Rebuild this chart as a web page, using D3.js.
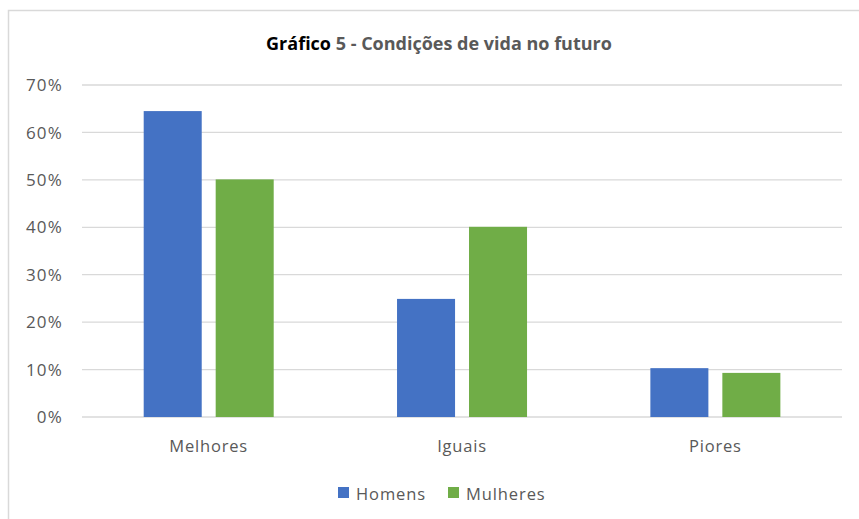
<!DOCTYPE html>
<meta charset="utf-8">
<script src="https://d3js.org/d3.v7.min.js"></script>
<style>
  body { margin: 0; background: #fff; }
  text { font-family: "Open Sans", sans-serif; }
</style>
<div id="main"></div>
<script>

var width = 859
var height = 519

// data
var categories = ["Melhores", "Iguais", "Piores"]
var series = ["Homens", "Mulheres"]
var homens = [0.645, 0.249, 0.103]
var mulheres = [0.501, 0.401, 0.093]
var colors = ["#4472C4", "#70AD47"]
var yTicks = [0, 0.1, 0.2, 0.3, 0.4, 0.5, 0.6, 0.7]

var values = [homens, mulheres]

var svg = d3.select("#main")
  .append("svg")
    .attr("width", width)
    .attr("height", height)

// chart frame (only left and top edges are visible)
svg.append("rect")
    .attr("x", 8.5)
    .attr("y", 10.5)
    .attr("width", 900)
    .attr("height", 600)
    .attr("fill", "#fff")
    .attr("stroke", "#d9d9d9")
    .attr("stroke-width", 1.5)

var plotLeft = 82, plotRight = 842, plotTop = 85, plotBottom = 417

var x0 = d3.scaleBand()
    .domain(categories)
    .range([plotLeft, plotRight])

var x1 = d3.scaleBand()
    .domain(series)
    .range([61.7, 191.7])
    .paddingInner(0.194)

var y = d3.scaleLinear()
    .domain([0, 0.7])
    .range([plotBottom, plotTop])

// gridlines
svg.append("g")
  .selectAll("line")
  .data(yTicks)
  .enter()
  .append("line")
    .attr("x1", plotLeft)
    .attr("x2", plotRight)
    .attr("y1", d => y(d))
    .attr("y2", d => y(d))
    .attr("stroke", "#d9d9d9")
    .attr("stroke-width", 1.3)

// y tick labels
svg.append("g")
  .selectAll("text")
  .data(yTicks)
  .enter()
  .append("text")
    .attr("x", 63)
    .attr("y", d => y(d))
    .attr("dy", "0.36em")
    .attr("text-anchor", "end")
    .attr("fill", "#595959")
    .style("font-size", "17px")
    .style("letter-spacing", "1.2px")
    .text(d => d3.format(".0%")(d))

// bars
var groups = svg.append("g")
  .selectAll("g")
  .data(categories)
  .enter()
  .append("g")
    .attr("transform", d => "translate(" + x0(d) + ",0)")

groups.selectAll("rect")
  .data((c, i) => series.map((s, j) => ({ s: s, v: values[j][i], j: j })))
  .enter()
  .append("rect")
    .attr("x", d => x1(d.s))
    .attr("width", x1.bandwidth())
    .attr("y", d => y(d.v))
    .attr("height", d => y(0) - y(d.v))
    .attr("fill", d => colors[d.j])

// category labels
svg.append("g")
  .selectAll("text")
  .data(categories)
  .enter()
  .append("text")
    .attr("x", d => x0(d) + x0.bandwidth() / 2)
    .attr("y", 451.5)
    .attr("text-anchor", "middle")
    .attr("fill", "#595959")
    .style("font-size", "16.5px")
    .style("letter-spacing", "0.8px")
    .text(d => d)

// title
var title = svg.append("text")
    .attr("x", 439)
    .attr("y", 50)
    .attr("text-anchor", "middle")
    .style("font-size", "18px")
    .style("font-weight", "bold")
    .attr("fill", "#595959")
title.append("tspan").attr("fill", "#000").text("Gráfico")
title.append("tspan").text(" 5 - Condições de vida no futuro")

// legend
var legendX = [338, 448]
var legend = svg.append("g")
  .selectAll("g")
  .data(series)
  .enter()
  .append("g")
    .attr("transform", (d, i) => "translate(" + legendX[i] + ",487)")

legend.append("rect")
    .attr("width", 11)
    .attr("height", 11)
    .attr("fill", (d, i) => colors[i])

legend.append("text")
    .attr("x", 18)
    .attr("y", 13)
    .attr("fill", "#595959")
    .style("font-size", "16.5px")
    .style("letter-spacing", "0.9px")
    .text(d => d)

</script>
